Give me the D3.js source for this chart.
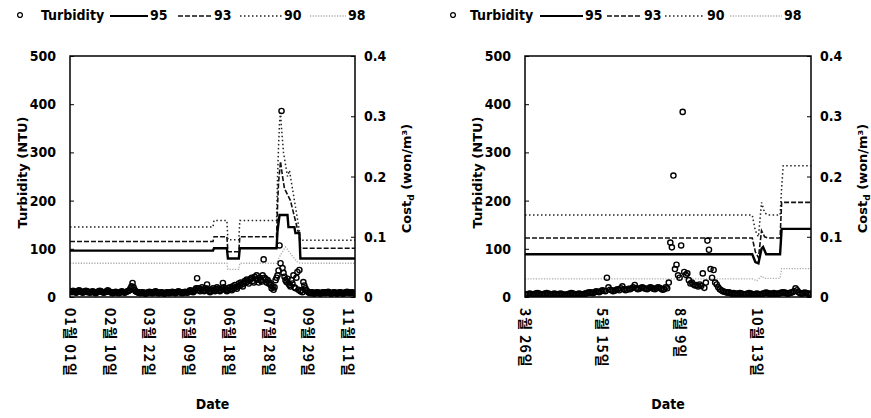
<!DOCTYPE html>
<html><head><meta charset="utf-8">
<script src="https://cdn.jsdelivr.net/npm/d3@7"></script>
<style>
html,body{margin:0;padding:0;background:#fff;}
svg{display:block;}
.num{font-family:"DejaVu Sans Condensed","DejaVu Sans",sans-serif;font-weight:bold;font-size:14px;}
.ttl{font-family:"DejaVu Sans",sans-serif;font-weight:bold;font-size:13px;}
.leg{font-family:"DejaVu Sans Condensed","DejaVu Sans",sans-serif;font-weight:bold;font-size:14px;}
.xt{font-family:"Noto Sans CJK KR",sans-serif;font-weight:bold;font-size:14px;}
</style>
</head><body>
<svg id="c" width="871" height="418"></svg>
<script>
// ---------- DATA ----------
const seriesNames = ["95","93","90","98"];

const leftTickIdx = [0,40,80,120,160,200,240,280];
const leftTickLabels = ["01월 01일","02월 10일","03월 22일","05월 09일","06월 18일","07월 28일","09월 29일","11월 11일"];
const rightTickIdx = [0,50,100,150];
const rightTickLabels = ["3월 26일","5월 15일","8월 9일","10월 13일"];

const turbTicks = [0,100,200,300,400,500];
const costTicks = [0,0.1,0.2,0.3,0.4];

// Turbidity (NTU), left panel, one value per day-index
const leftTurb = [
12,11,10,13,12,11,9,10,12,14, 13,11,10,9,11,12,13,12,10,11, 9,10,11,12,10,9,8,10,11,12,
13,12,11,10,9,10,11,12,14,12, 11,10,9,8,9,10,11,10,9,8, 9,10,12,11,10,9,10,11,12,13,
14,18,22,29,20,15,12,11,10,9,
9,8,9,10,9,8,7,8,9,10, 11,10,9,8,9,10,12,11,9,8, 8,9,10,9,8,7,8,9,10,9,
8,9,10,11,10,9,8,9,10,12, 11,10,9,8,9,10,11,10,9,10, 12,14,13,11,10,12,15,18,
39,
18,14,12,16,20,15,12,14,18,26,15,12,
10,12,15,18,14,12,16,20,17,14, 12,15,18,29,20,16,14,12,15,18,
20,16,14,22,18,25,20,17,22,28, 24,30,26,22,28,33,30,36,32,28,
35,38,40,33,30,42,38,45,36,30, 40,35,32,45,78,40,37,30,35,28,
30,25,18,22,15,20,35,40,45,55,
107,70,386,60,50,42,35,31,38,28,25,22,35,28,45,20,18,40,52,15,56,12,14,10,
31,24,18,14,12,10,9,8,9,10, 8,7,8,9,10,9,8,7,8,9, 10,9,8,9,10,11,9,8,7,8,
9,10,9,8,7,8,9,10,9,8, 7,8,9,10,11,10,9,8,9,10, 9,8,7
];

// Turbidity (NTU), right panel
const rightTurb = [
6,5,6,7,6,5,6,7,8,7, 6,5,6,7,8,7,6,5,6,7, 6,5,6,7,6,5,4,5,6,7, 8,7,6,5,6,7,6,5,6,7,
8,9,10,9,8,10,12,11,10,12,14,13,12,
40,20,
15,14,12,13,15,16,14,18,22,16, 14,15,17,16,18,
20,25,18,16,17,19,20,18,17,16, 18,20,19,17,16,18,20,19,17,15, 16,
20,18,30,113,103,252,58,67,45,40,107,384,52,46,49,35,28,30,26,24,25,22,26,23,49,19,30,117,98,58,40,56,30,26,20,
16,14,12,11,10,9,10,8,7,8, 7,6,7,8,7,6,5,6,7,8, 7,6,5,6,7,6,5,6,7,8,
9,8,7,6,7,8,7,6,7,8, 9,10,9,8,7,8,9,10,12,18, 14,10,8,7,8,9,8,7,6,7
];

// Cost_d (won/m3) lines, [day-index, value] breakpoints
const left90 = [[0,0.116],[144,0.116],[145,0.127],[158,0.127],[159,0.095],[170,0.095],[171,0.127],[208,0.127],[209,0.2],[210,0.25],[211,0.29],[212,0.306],[213,0.28],[214,0.26],[215,0.24],[217,0.22],[219,0.2],[221,0.21],[223,0.19],[225,0.17],[227,0.15],[229,0.13],[231,0.11],[232,0.094],[287,0.094]];
const left93 = [[0,0.092],[144,0.092],[145,0.1],[158,0.1],[159,0.075],[170,0.075],[171,0.1],[208,0.1],[209,0.15],[210,0.19],[212,0.225],[214,0.2],[216,0.18],[219,0.17],[222,0.16],[225,0.14],[228,0.12],[231,0.1],[232,0.081],[287,0.081]];
const left95 = [[0,0.077],[144,0.077],[145,0.081],[158,0.081],[159,0.064],[170,0.064],[171,0.081],[208,0.081],[209,0.11],[211,0.136],[219,0.136],[220,0.116],[226,0.116],[227,0.106],[231,0.106],[232,0.064],[287,0.064]];
const left98 = [[0,0.056],[158,0.056],[159,0.046],[170,0.046],[171,0.056],[208,0.056],[212,0.07],[217,0.083],[223,0.07],[229,0.058],[232,0.056],[287,0.056]];

const right90 = [[0,0.136],[147,0.136],[149,0.11],[151,0.1],[153,0.157],[155,0.14],[157,0.136],[165,0.136],[166,0.18],[167,0.218],[185,0.218]];
const right93 = [[0,0.098],[147,0.098],[149,0.075],[151,0.065],[153,0.11],[155,0.1],[157,0.098],[165,0.098],[166,0.157],[185,0.157]];
const right95 = [[0,0.071],[147,0.071],[149,0.058],[151,0.056],[153,0.08],[154,0.083],[156,0.071],[165,0.071],[166,0.113],[185,0.113]];
const right98 = [[0,0.030],[147,0.030],[150,0.027],[153,0.035],[155,0.031],[165,0.031],[166,0.047],[185,0.047]];

// ---------- STYLES ----------
const styles = {
  "95": {stroke:"#000", width:2.4, dash:null},
  "93": {stroke:"#111", width:1.6, dash:"5,2"},
  "90": {stroke:"#222", width:1.5, dash:"1.5,2.5"},
  "98": {stroke:"#aaa", width:1.3, dash:"1.2,1.5"}
};

const svg = d3.select("#c");

function panel(cfg){
  const x = d3.scaleLinear().domain([0, cfg.turb.length-1]).range([cfg.x0, cfg.x1]);
  const yT = d3.scaleLinear().domain([0,500]).range([cfg.y1, cfg.y0]);
  const yC = d3.scaleLinear().domain([0,0.4]).range([cfg.y1, cfg.y0]);
  const g = svg.append("g");
  const cid = "clip"+cfg.id;
  g.append("clipPath").attr("id",cid).append("rect")
    .attr("x",cfg.x0).attr("y",cfg.y0).attr("width",cfg.x1-cfg.x0).attr("height",cfg.y1-cfg.y0);
  const plot = g.append("g").attr("clip-path","url(#"+cid+")");

  const line = d3.line().x(d=>x(d[0])).y(d=>yC(d[1]));
  [["98",cfg.l98],["90",cfg.l90],["93",cfg.l93],["95",cfg.l95]].forEach(([k,data])=>{
    const s = styles[k];
    plot.append("path").datum(data).attr("d",line)
      .attr("fill","none").attr("stroke",s.stroke).attr("stroke-width",s.width)
      .attr("stroke-dasharray",s.dash);
  });

  plot.selectAll("circle.t").data(cfg.turb).join("circle").attr("class","t")
    .attr("cx",(d,i)=>x(i)).attr("cy",d=>yT(d)).attr("r",2.6)
    .attr("fill","none").attr("stroke","#000").attr("stroke-width",1.4);

  // frame
  g.append("rect").attr("x",cfg.x0).attr("y",cfg.y0).attr("width",cfg.x1-cfg.x0).attr("height",cfg.y1-cfg.y0)
    .attr("fill","none").attr("stroke","#000").attr("stroke-width",1.5);

  // left axis (ticks inward)
  const la = g.append("g").attr("transform",`translate(${cfg.x0},0)`)
    .call(d3.axisRight(yT).tickValues(turbTicks).tickSize(4).tickFormat(""));
  la.select(".domain").remove();
  g.selectAll("text.lt").data(turbTicks).join("text").attr("class","num")
    .attr("x",cfg.x0-14).attr("y",d=>yT(d)+5).attr("text-anchor","end").text(d=>d);

  const ra = g.append("g").attr("transform",`translate(${cfg.x1},0)`)
    .call(d3.axisLeft(yC).tickValues(costTicks).tickSize(4).tickFormat(""));
  ra.select(".domain").remove();
  g.selectAll("text.rt").data(costTicks).join("text").attr("class","num")
    .attr("x",cfg.x1+9).attr("y",d=>yC(d)+5).attr("text-anchor","start").text(d=>d===0?"0":d3.format(".1f")(d));

  // x tick labels, rotated
  cfg.tickIdx.forEach((ti,k)=>{
    g.append("text").attr("class","xt")
      .attr("transform",`translate(${x(ti)-5},${cfg.y1+11}) rotate(90)`)
      .attr("text-anchor","start").attr("letter-spacing","1px").text(cfg.tickLabels[k]);
  });

  // axis titles
  g.append("text").attr("class","ttl").attr("text-anchor","middle")
    .attr("transform",`translate(${cfg.x0-43},${(cfg.y0+cfg.y1)/2-4}) rotate(-90)`)
    .text("Turbidity (NTU)");
  const rt = g.append("text").attr("class","ttl").attr("text-anchor","middle")
    .attr("transform",`translate(${cfg.x1+56},${(cfg.y0+cfg.y1)/2+2}) rotate(-90)`);
  rt.append("tspan").text("Cost");
  rt.append("tspan").attr("font-size","9px").attr("dy",3).text("d");
  rt.append("tspan").attr("dy",-3).text(" (won/m³)");

  g.append("text").attr("class","leg").attr("text-anchor","middle")
    .attr("x",(cfg.x0+cfg.x1)/2).attr("y",409).text("Date");

  // legend
  const L = cfg.leg;
  const lg = g.append("g").attr("transform",`translate(${L.x},15)`);
  lg.append("circle").attr("cx",0).attr("cy",0).attr("r",2.4).attr("fill","none").attr("stroke","#000").attr("stroke-width",1.3);
  lg.append("text").attr("class","leg").attr("x",L.t).attr("y",5).text("Turbidity");
  L.items.forEach(it=>{
    const s = styles[it.k];
    lg.append("line").attr("x1",it.a).attr("x2",it.b).attr("y1",1).attr("y2",1)
      .attr("stroke",s.stroke).attr("stroke-width",Math.min(s.width,2)).attr("stroke-dasharray",s.dash);
    lg.append("text").attr("class","leg").attr("x",it.b+2).attr("y",5).text(it.k);
  });
}

panel({id:"L", turb:leftTurb, x0:70, x1:355, y0:56, y1:297,
  l90:left90,l93:left93,l95:left95,l98:left98,
  tickIdx:leftTickIdx, tickLabels:leftTickLabels,
  leg:{x:20,t:21,items:[{k:"95",a:90,b:128},{k:"93",a:158,b:192},{k:"90",a:220,b:262},{k:"98",a:290,b:326}]}});

panel({id:"R", turb:rightTurb, x0:525, x1:811, y0:56, y1:297,
  l90:right90,l93:right93,l95:right95,l98:right98,
  tickIdx:rightTickIdx, tickLabels:rightTickLabels,
  leg:{x:453,t:17,items:[{k:"95",a:87,b:130},{k:"93",a:154,b:189},{k:"90",a:212,b:252},{k:"98",a:277,b:329}]}});
</script>
</body></html>
